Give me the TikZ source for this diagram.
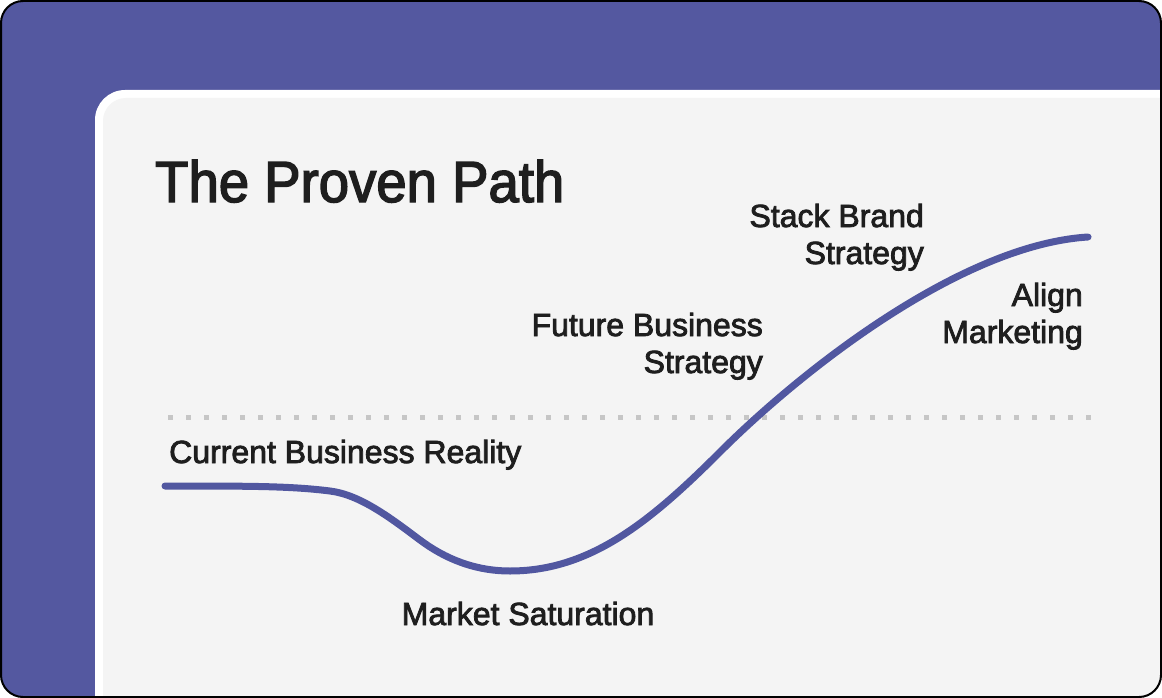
\documentclass[tikz,border=0pt]{standalone}
\usepackage{fontspec}
\setmainfont{Liberation Sans}
\newfontfamily\labelfont{Liberation Sans}[FakeBold=2.5]
\newfontfamily\titlefont{Liberation Sans}[FakeBold=2.5,FakeStretch=0.94]
\usetikzlibrary{calc,positioning}
\definecolor{frame}{HTML}{5458A0}
\definecolor{pathline}{HTML}{5157A0}
\definecolor{panel}{HTML}{F4F4F4}
\definecolor{ink}{HTML}{1E1E1E}
\definecolor{dots}{HTML}{C6C6C6}
\tikzset{
  lbl/.style={inner sep=0pt,text=ink,font=\labelfont\fontsize{32}{37}\selectfont},
  curve/.style={pathline,line width=7pt,line cap=round},
  guide/.style={dots,line width=5pt,dash pattern=on 5pt off 13pt},
}
\begin{document}
\begin{tikzpicture}[x=1pt,y=-1pt]
\useasboundingbox (0,0) rectangle (1162,698);
% card and panel
\begin{scope}
\clip[rounded corners=22pt] (1,1) rectangle (1161,697);
\fill[frame] (0,0) rectangle (1162,698);
\fill[white,rounded corners=30pt] (95,90) rectangle (1200,740);
\fill[panel,rounded corners=23pt] (103,98) rectangle (1200,740);
\end{scope}
\draw[line width=2pt,rounded corners=22pt] (1,1) rectangle (1161,697);
% labels
\node[lbl,font=\titlefont\fontsize{58}{70}\selectfont,anchor=base west] (title) at (155,202) {The Proven Path};
\node[lbl,anchor=base west] (now) at (169,463) {Current Business Reality};
\node[lbl,anchor=base] (dip) at (528,625) {Market Saturation};
\node[lbl,align=right,anchor=base east] (future) at (763,373) {Future Business\\Strategy};
\node[lbl,align=right,anchor=base east] (brand) at (924,264) {Stack Brand\\Strategy};
\node[lbl,align=right,anchor=base east] (align) at (1083,343) {Align\\Marketing};
% threshold and path
\coordinate (gl) at (168,417);
\coordinate (gr) at (1091,417);
\coordinate (p0) at (165,486);
\coordinate (p4) at (1088,237);
\draw[guide] (gl) -- (gr);
\draw[curve] (p0) .. controls (250,486) and (290,486) .. (330,491)
  .. controls (360,494.75) and (390,517.5) .. (420,540)
  .. controls (445,558.75) and (475,571) .. (510,571)
  .. controls (590,571) and (650,522) .. (720,452)
  .. controls (800,372) and (960,245) .. (p4);
\end{tikzpicture}
\end{document}
